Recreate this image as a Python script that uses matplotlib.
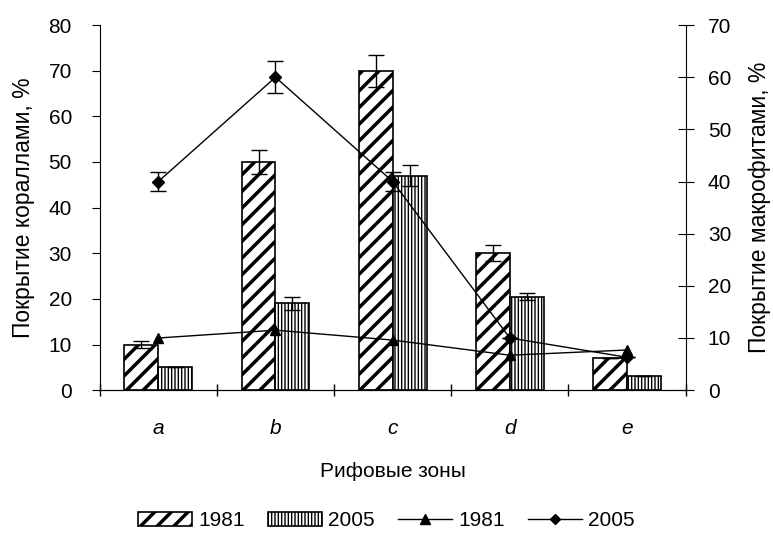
import matplotlib as mpl
import matplotlib.pyplot as plt
import numpy as np

plt.rcParams['font.family'] = ['Liberation Sans', 'DejaVu Sans']

zones = ['a', 'b', 'c', 'd', 'e']
coral_1981 = [10, 50, 70, 30, 7]
coral_1981_err = [0.8, 2.6, 3.5, 1.8, 0]
coral_2005 = [5, 19, 47, 20.5, 3]
coral_2005_err = [0, 1.4, 2.3, 0.7, 0]
macro_1981 = [10, 11.5, 9.6, 6.7, 7.7]
macro_2005 = [40, 60, 40, 10, 6.3]
macro_2005_err = [1.9, 3.1, 1.9, 0, 0]

x = np.arange(len(zones))
w = 0.29
fs = 15

fig = plt.figure(figsize=(7.73, 5.33), dpi=100)
ax = fig.add_axes([0.129, 0.268, 0.758, 0.685])

b1 = ax.bar(x - w/2, coral_1981, w, color='white', edgecolor='black', hatch='//', linewidth=1.2, label='1981')
b2 = ax.bar(x + w/2, coral_2005, w, color='white', edgecolor='black', hatch='|||||', linewidth=1.2, label='2005')
for p in b1:
    p.set_hatch_linewidth(2.5)
for p in b2:
    p.set_hatch_linewidth(1.0)
ax.errorbar(x - w/2, coral_1981, yerr=coral_1981_err, fmt='none', ecolor='black', capsize=6, elinewidth=1)
ax.errorbar(x + w/2, coral_2005, yerr=coral_2005_err, fmt='none', ecolor='black', capsize=6, elinewidth=1)

ax.set_ylim(0, 80)
ax.set_xlim(-0.5, 4.5)
ax.set_yticks(range(0, 81, 10))
ax.set_xticks(x)
ax.set_xticklabels(zones, fontstyle='italic')
ax.set_xticks(np.arange(-0.5, 4.6, 1), minor=True)
ax.tick_params(axis='x', which='major', length=0, pad=21, labelsize=fs)
ax.tick_params(axis='x', which='minor', length=8, direction='inout', width=1)
ax.tick_params(axis='y', direction='out', length=6, labelsize=fs, pad=14)
ax.spines['top'].set_visible(False)
ax.spines['right'].set_visible(False)
ax.set_ylabel('Покрытие кораллами, %', fontsize=16.5, labelpad=10)
ax.set_xlabel('Рифовые зоны', fontsize=fs, labelpad=17)

ax2 = ax.twinx()
l1, = ax2.plot(x, macro_1981, color='black', marker='^', markersize=7, linewidth=1, label='1981')
l2 = ax2.errorbar(x, macro_2005, yerr=macro_2005_err, color='black', marker='D', markersize=6,
                  linewidth=1, capsize=6, elinewidth=1, label='2005')
ax2.set_ylim(0, 70)
ax2.set_yticks(range(0, 71, 10))
ax2.tick_params(axis='y', direction='inout', length=12, labelsize=fs, pad=10)
ax2.spines['top'].set_visible(False)
ax2.spines['left'].set_visible(False)
ax2.set_ylabel('Покрытие макрофитами, %', fontsize=16.5, labelpad=12)

l2_handle = mpl.lines.Line2D([], [], color='black', marker='D', markersize=5, linewidth=1)
l1_handle = mpl.lines.Line2D([], [], color='black', marker='^', markersize=7, linewidth=1)
leg = fig.legend([b1, b2, l1_handle, l2_handle], ['1981', '2005', '1981', '2005'],
                 loc='lower center', bbox_to_anchor=(0.5, -0.03), ncol=4, frameon=False,
                 fontsize=fs, handlelength=2.6, columnspacing=1.1, handletextpad=0.3)
leg.legend_handles[0].set_hatch_linewidth(2.5)
leg.legend_handles[1].set_hatch_linewidth(1.0)

plt.savefig('out.png', dpi=100)
